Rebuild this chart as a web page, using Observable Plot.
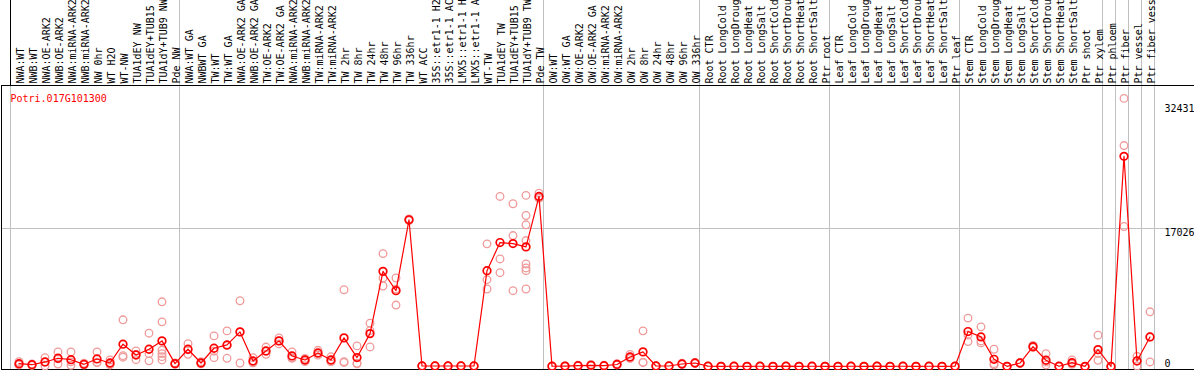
<!DOCTYPE html>
<html><head><meta charset="utf-8">
<script src="https://cdn.jsdelivr.net/npm/d3@7"></script>
<script src="https://cdn.jsdelivr.net/npm/@observablehq/plot@0.6"></script>
<style>html,body{margin:0;padding:0;background:#fff;}</style>
</head><body><div id="chart"></div>
<script>
const title = "Potri.017G101300";
const labels = [
  "NWA:WT","NWB:WT","NWA:OE-ARK2","NWB:OE-ARK2","NWA:miRNA-ARK2","NWB:miRNA-ARK2","NW 0hr","WT H2O","WT-NW","TUA1dEY NW","TUA1dEY+TUB15 NW","TUA1dY+TUB9 NW","Pde NW",
  "NWA:WT GA","NWBWT GA","TW:WT","TW:WT GA","NWA:OE-ARK2 GA","NWB:OE-ARK2 GA","TW:OE-ARK2","TW:OE-ARK2 GA","NWA:miRNA-ARK2 GA","NWB:miRNA-ARK2 GA","TW:miRNA-ARK2","TW:miRNA-ARK2 GA","TW 2hr","TW 8hr","TW 24hr","TW 48hr","TW 96hr","TW 336hr","WT ACC","35S::etr1-1 H2O","35S::etr1-1 ACC","LMX5::etr1-1 H2O","LMX5::etr1-1 ACC","WT-TW","TUA1dEY TW","TUA1dEY+TUB15 TW","TUA1dY+TUB9 TW","Pde TW",
  "OW:WT","OW:WT GA","OW:OE-ARK2","OW:OE-ARK2 GA","OW:miRNA-ARK2","OW:miRNA-ARK2 GA","OW 2hr","OW 8hr","OW 24hr","OW 48hr","OW 96hr","OW 336hr",
  "Root CTR","Root LongCold","Root LongDrought","Root LongHeat","Root LongSalt","Root ShortCold","Root ShortDrought","Root ShortHeat","Root ShortSalt","Ptr root",
  "Leaf CTR","Leaf LongCold","Leaf LongDrought","Leaf LongHeat","Leaf LongSalt","Leaf ShortCold","Leaf ShortDrought","Leaf ShortHeat","Leaf ShortSalt","Ptr leaf",
  "Stem CTR","Stem LongCold","Stem LongDrought","Stem LongHeat","Stem LongSalt","Stem ShortCold","Stem ShortDrought","Stem ShortHeat","Stem ShortSalt","Ptr shoot","Ptr xylem",
  "Ptr phloem","Ptr fiber","Ptr vessel","Ptr fiber vessel"
];
const means = [
  350,220,560,1015,840,270,930,430,2750,1420,2130,3160,350,
  2130,430,2250,2660,4270,680,1920,3160,1300,800,1670,800,3530,1100,4060,11740,9350,18100,60,60,60,60,60,11820,15290,15165,14755,20980,
  30,50,100,150,100,250,1180,1800,60,60,310,430,
  40,20,30,20,30,20,40,20,30,20,
  20,30,20,40,20,30,20,30,20,30,
  4310,3650,890,20,430,2450,770,30,470,10,2080,
  0,25930,680,3650
];
const replicates = [
  [600,200,250],[300,150,210],[1090,60,530],[1795,310,940],[1795,150,575],[400,200,210],[1795,470,525],[800,190,300],[5760,1340,1150],[1920,840,1500],[4110,1585,695],[7985,5510,2005,1585,1213,805],[450,300,300],
  [2820,1510,2060],[600,350,340],[3775,1090,1890],[4395,1015,2570],[8110,430,4270],[1090,500,450],[2400,1500,1860],[3530,2790,3150],[1800,1000,1100],[1000,600,800],[2000,1400,1600],[1200,600,600],[9470,500,600],[2540,400,330],[5350,2410,4420],[13930,10920,9930],[10920,7580,9550],[18000,18200,18100],[60,60,60],[60,60,60],[60,60,60],[60,60,60],[60,60,60],[15130,10710,9560],[20980,13270,11575],[20080,16155,9350],[21110,18630,17480,15540,12650,12160,11820,9560],[21390,20800,20750],
  [40,20,30],[60,40,50],[150,80,70],[250,100,100],[150,80,70],[350,200,200],[1500,1000,1040],[4400,500,500],[60,60,60],[60,60,60],[400,250,280],[500,400,390],
  [50,30,40],[30,10,20],[40,20,30],[30,10,20],[40,20,30],[30,10,20],[50,30,40],[30,10,20],[40,20,30],[30,10,20],
  [30,10,20],[40,20,30],[30,10,20],[50,30,40],[30,10,20],[40,20,30],[30,10,20],[40,20,30],[30,10,20],[40,20,30],
  [5970,3070,3890],[4890,2910,3150],[2130,190,350],[30,10,20],[500,400,390],[2600,2350,2400],[1585,190,535],[40,20,30],[800,300,310],[10,10,10],[3860,770,1610],
  [0,0,0],[33080,27260,17270],[1260,60,720],[6750,560,3640]
];
const groupStarts = ["NWA:WT","NWA:WT GA","OW:WT","Root CTR","Leaf CTR","Stem CTR","Ptr phloem","Ptr fiber","Ptr vessel","Ptr fiber vessel"];
const yTicks = [32431, 17026, 0];
const yMax = 34052;

const meanRows = labels.map((label, i) => ({label, value: means[i]}));
const repRows = replicates.flatMap((r, i) => r.map(v => ({label: labels[i], value: v})));

const plot = Plot.plot({
  width: 1194, height: 370,
  marginTop: 85, marginBottom: 1, marginLeft: 10, marginRight: 40,
  style: {fontFamily: "'DejaVu Sans Mono', monospace", fontSize: "10px", background: "#fff", color: "#000", overflow: "hidden"},
  x: {type: "band", domain: labels, padding: 0, axis: null},
  y: {domain: [0, yMax], insetTop: 5, insetBottom: 3},
  marks: [
    Plot.ruleX(groupStarts, {x: d => d, dx: -6.5, stroke: "#c0c0c0", insetTop: -85}),
    Plot.ruleX([labels[labels.length - 1]], {x: d => d, dx: 6.5, stroke: "#c0c0c0", insetTop: -85}),
    Plot.ruleY([yTicks[1]], {stroke: "#c0c0c0", insetLeft: -9, insetRight: -40}),
    Plot.ruleX([labels[0]], {x: d => d, dx: -6.5, stroke: "#000", insetTop: -85, insetBottom: 284}),
    Plot.frame({stroke: "#000", insetLeft: -9, insetRight: -41}),
    Plot.dot(repRows, {x: "label", y: "value", r: 3.8, stroke: "#f09a9a", strokeWidth: 1.3, dx: 2}),
    Plot.line(meanRows, {x: "label", y: "value", stroke: "#ff0000", strokeWidth: 1.2, dx: 2}),
    Plot.dot(meanRows, {x: "label", y: "value", r: 3.8, stroke: "#ff0000", strokeWidth: 1.7, dx: 2}),
    Plot.text(labels, {x: d => d, frameAnchor: "top", dy: -2, rotate: -90, textAnchor: "start", fill: "#000"}),
    Plot.text([title], {frameAnchor: "top-left", dy: 9, textAnchor: "start", fill: "#ff0000"}),
    Plot.axisY([yTicks[0]], {anchor: "right", tickSize: 0, tickPadding: 10, dy: 5, label: null, tickFormat: d => String(d)}),
    Plot.axisY([yTicks[1]], {anchor: "right", tickSize: 0, tickPadding: 10, dy: 4, label: null, tickFormat: d => String(d)}),
    Plot.axisY([yTicks[2]], {anchor: "right", tickSize: 0, tickPadding: 10, dy: -3, label: null, tickFormat: d => String(d)})
  ]
});
document.getElementById("chart").appendChild(plot);
</script>
</body></html>
